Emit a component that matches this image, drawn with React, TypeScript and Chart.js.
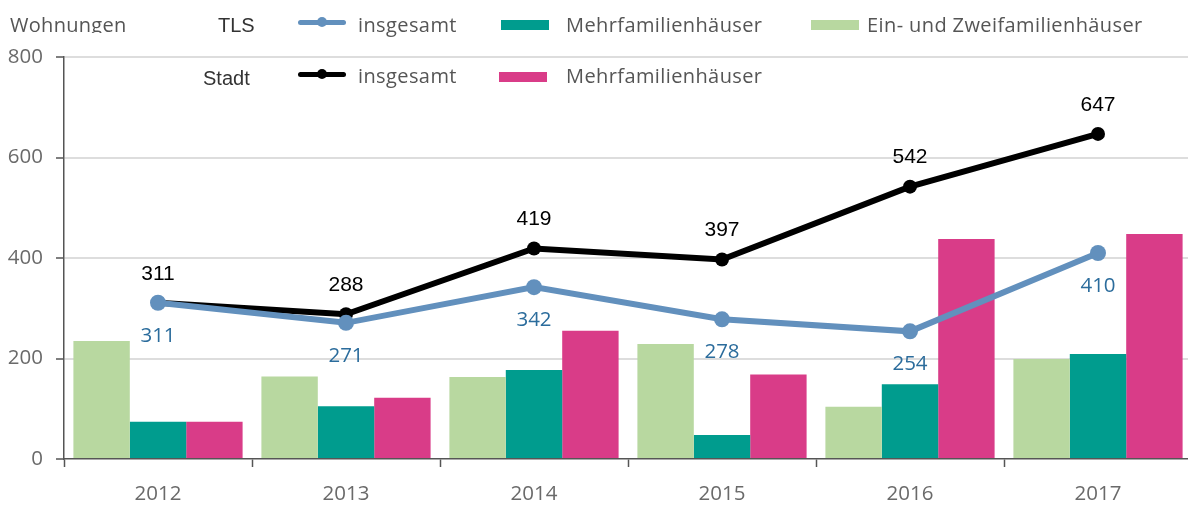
import React, { useEffect, useRef } from "react";
import { Chart, registerables } from "chart.js";

Chart.register(...registerables);

const years = ["2012", "2013", "2014", "2015", "2016", "2017"];
const tlsTotal = [311, 271, 342, 278, 254, 410];
const stadtTotal = [311, 288, 419, 397, 542, 647];
const einZweiFam = [235, 164, 163, 229, 104, 199];
const tlsMehrFam = [74, 105, 177, 48, 149, 209];
const stadtMehrFam = [74, 122, 255, 168, 438, 448];
const yTickValues = [0, 200, 400, 600, 800];

const HUMAN = "'Open Sans', 'Noto Sans', sans-serif";
const ARIAL = "'Liberation Sans', Arial, sans-serif";

const COLORS = {
  green: "#b8d8a0",
  teal: "#009c8e",
  pink: "#d93c88",
  blue: "#6290bd",
  blueText: "#2b6c9c",
  black: "#000000",
  grid: "#dddddd",
  axis: "#555555",
  tickText: "#6a6a6a",
};

const valueLabels = {
  id: "valueLabels",
  afterDatasetsDraw(chart: any) {
    const ctx = chart.ctx;
    chart.data.datasets.forEach((ds: any, i: number) => {
      const style =
        ds.label === "Stadt insgesamt"
          ? { font: `21px ${ARIAL}`, color: "#000", dy: -29 }
          : ds.label === "TLS insgesamt"
          ? { font: `20.5px ${HUMAN}`, color: COLORS.blueText, dy: 33 }
          : null;
      if (!style) return;
      const meta = chart.getDatasetMeta(i);
      meta.data.forEach((pt: any, j: number) => {
        ctx.save();
        ctx.font = style.font;
        ctx.fillStyle = style.color;
        ctx.textAlign = "center";
        ctx.textBaseline = "middle";
        ctx.fillText(String(ds.data[j]), pt.x, pt.y + style.dy);
        ctx.restore();
      });
    });
  },
};

function LineMarker({ left, top, color }: { left: number; top: number; color: string }) {
  return (
    <div style={{ position: "absolute", left, top, width: 48, height: 10 }}>
      <div
        style={{
          position: "absolute",
          left: 0,
          top: 2.5,
          width: 48,
          height: 5,
          borderRadius: 3,
          background: color,
        }}
      />
      <div
        style={{
          position: "absolute",
          left: 19,
          top: 0,
          width: 10,
          height: 10,
          borderRadius: 5,
          background: color,
        }}
      />
    </div>
  );
}

function Box({ left, top, color }: { left: number; top: number; color: string }) {
  return (
    <div style={{ position: "absolute", left, top, width: 48, height: 10, background: color }} />
  );
}

function Txt({
  left,
  center,
  text,
  font,
  color,
  size,
  spacing = 0,
}: {
  left: number;
  center: number;
  text: string;
  font: string;
  color: string;
  size: number;
  spacing?: number;
}) {
  return (
    <div
      style={{
        position: "absolute",
        left,
        top: center - 15,
        height: 30,
        lineHeight: "30px",
        fontFamily: font,
        fontSize: size,
        color,
        whiteSpace: "nowrap",
        letterSpacing: spacing,
      }}
    >
      {text}
    </div>
  );
}

export default function App() {
  const ref = useRef<HTMLCanvasElement | null>(null);

  useEffect(() => {
    if (!ref.current) return;
    const chart = new Chart(ref.current, {
      type: "bar",
      data: {
        labels: years,
        datasets: [
          {
            type: "line",
            label: "TLS insgesamt",
            data: tlsTotal,
            borderColor: COLORS.blue,
            backgroundColor: COLORS.blue,
            borderWidth: 6,
            pointRadius: 8,
            pointBorderWidth: 0,
            pointBackgroundColor: COLORS.blue,
            order: 0,
          },
          {
            type: "line",
            label: "Stadt insgesamt",
            data: stadtTotal,
            borderColor: COLORS.black,
            backgroundColor: COLORS.black,
            borderWidth: 6,
            pointRadius: 7,
            pointBorderWidth: 0,
            pointBackgroundColor: COLORS.black,
            order: 1,
          },
          {
            label: "Ein- und Zweifamilienhäuser",
            data: einZweiFam,
            backgroundColor: COLORS.green,
            barPercentage: 1,
            categoryPercentage: 0.9,
            order: 2,
          },
          {
            label: "TLS Mehrfamilienhäuser",
            data: tlsMehrFam,
            backgroundColor: COLORS.teal,
            barPercentage: 1,
            categoryPercentage: 0.9,
            order: 2,
          },
          {
            label: "Stadt Mehrfamilienhäuser",
            data: stadtMehrFam,
            backgroundColor: COLORS.pink,
            barPercentage: 1,
            categoryPercentage: 0.9,
            order: 2,
          },
        ],
      },
      options: {
        responsive: false,
        animation: false,
        layout: { padding: { top: 57, left: 0, right: 0, bottom: 0 } },
        plugins: {
          legend: { display: false },
          tooltip: { enabled: false },
        },
        scales: {
          x: {
            offset: true,
            afterFit: (s: any) => {
              s.height = 47;
            },
            grid: {
              offset: true,
              drawOnChartArea: false,
              drawTicks: true,
              tickLength: 8,
              tickColor: COLORS.axis,
              tickWidth: 1.5,
            },
            border: { display: true, color: COLORS.axis, width: 1.5 },
            ticks: {
              color: COLORS.tickText,
              font: { family: HUMAN, size: 20.5 },
              padding: 15,
            },
          },
          y: {
            min: 0,
            max: 800,
            afterFit: (s: any) => {
              s.width = 64;
            },
            afterBuildTicks: (s: any) => {
              s.ticks = yTickValues.map((v) => ({ value: v }));
            },
            grid: {
              color: (c: any) => (c.tick && c.tick.value === 0 ? "rgba(0,0,0,0)" : COLORS.grid),
              lineWidth: 2,
              drawTicks: true,
              tickLength: 8,
              tickColor: COLORS.axis,
              tickWidth: 1.5,
            },
            border: { display: true, color: COLORS.axis, width: 1.5 },
            ticks: {
              color: COLORS.tickText,
              font: { family: HUMAN, size: 20.5 },
              padding: 13,
            },
          },
        },
      },
      plugins: [valueLabels],
    } as any);
    return () => chart.destroy();
  }, []);

  return (
    <div
      style={{
        position: "fixed",
        left: 0,
        top: 0,
        width: 1188,
        height: 506,
        overflow: "hidden",
        background: "#fff",
      }}
    >
      <canvas ref={ref} width={1200} height={506} style={{ position: "absolute", left: 0, top: 0 }} />
      <div style={{ position: "absolute", left: 0, top: 0, width: 200, height: 33, overflow: "hidden" }}>
        <Txt left={10} center={25} text="Wohnungen" font={HUMAN} color="#555" size={20} spacing={0.3} />
      </div>
      <Txt left={218} center={25} text="TLS" font={ARIAL} color="#333" size={20} />
      <LineMarker left={298} top={17} color={COLORS.blue} />
      <Txt left={358} center={25} text="insgesamt" font={HUMAN} color="#555" size={20} spacing={0.4} />
      <Box left={501} top={20} color={COLORS.teal} />
      <Txt left={566} center={25} text="Mehrfamilienhäuser" font={HUMAN} color="#555" size={20} spacing={0.4} />
      <Box left={811} top={20} color={COLORS.green} />
      <Txt left={867} center={25} text="Ein- und Zweifamilienhäuser" font={HUMAN} color="#555" size={20} spacing={0.4} />

      <Txt left={203} center={78} text="Stadt" font={ARIAL} color="#333" size={20} />
      <LineMarker left={298} top={69} color={COLORS.black} />
      <Txt left={358} center={76} text="insgesamt" font={HUMAN} color="#555" size={20} spacing={0.4} />
      <Box left={499} top={72} color={COLORS.pink} />
      <Txt left={566} center={76} text="Mehrfamilienhäuser" font={HUMAN} color="#555" size={20} spacing={0.4} />
    </div>
  );
}
